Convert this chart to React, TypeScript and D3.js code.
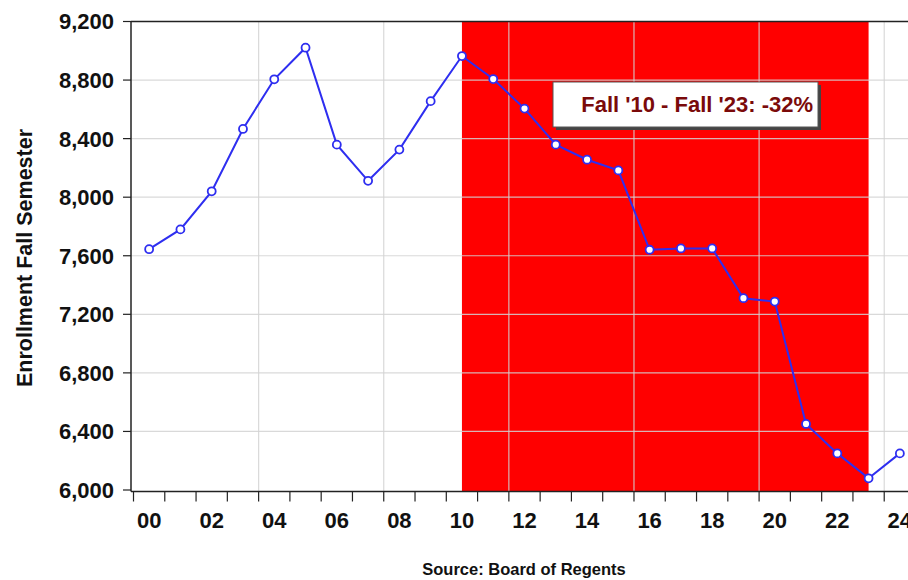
import React from "react";
import * as d3 from "d3";

const years = [2000, 2001, 2002, 2003, 2004, 2005, 2006, 2007, 2008, 2009, 2010, 2011, 2012, 2013, 2014, 2015, 2016, 2017, 2018, 2019, 2020, 2021, 2022, 2023, 2024];
const enrollment = [7645, 7780, 8040, 8466, 8805, 9021, 8359, 8112, 8325, 8656, 8964, 8807, 8605, 8359, 8256, 8183, 7641, 7650, 7650, 7310, 7287, 6451, 6250, 6080, 6250];
const yTicks = [6000, 6400, 6800, 7200, 7600, 8000, 8400, 8800, 9200];
const xLabelYears = [2000, 2002, 2004, 2006, 2008, 2010, 2012, 2014, 2016, 2018, 2020, 2022, 2024];
const xGridYears = [2004, 2008, 2012, 2016, 2020, 2024];
const shadeStart = 2010;
const shadeEnd = 2023;
const annotation = "Fall '10 - Fall '23: -32%";
const yTitle = "Enrollment Fall Semester";
const source = "Source: Board of Regents";

export default function App() {
  const W = 908, H = 580;
  const left = 131, right = 908, top = 21.5, bottom = 491.5;
  const x = d3.scaleLinear().domain([2000, 2025]).range([133.5, 133.5 + 31.28 * 25]);
  const y = d3.scaleLinear().domain([6000, 9200]).range([490, 21.5]);
  const cx = (yr: number) => x(yr + 0.5);
  const line = d3.line<number>().x((_, i) => cx(years[i])).y((v) => y(v));
  const font = "'Liberation Sans', Arial, sans-serif";
  const blue = "#2e2ef0";
  const tickYears = d3.range(0, years.length + 1).map((i) => 2000 + i);

  return (
    <svg width={W} height={H} style={{ position: "absolute", left: 0, top: 0, background: "#fff" }} fontFamily={font}>
      <rect x={0} y={0} width={W} height={H} fill="#fff" />
      <rect x={cx(shadeStart)} y={top} width={cx(shadeEnd) - cx(shadeStart)} height={bottom - top} fill="#ff0000" />
      {yTicks.filter((t) => t > 6000 && t < 9200).map((t) => (
        <line key={"h" + t} x1={left} x2={right} y1={y(t)} y2={y(t)} stroke="#d2d2d2" strokeOpacity={0.85} strokeWidth={1.2} />
      ))}
      {xGridYears.map((yr) => (
        <line key={"v" + yr} x1={x(yr)} x2={x(yr)} y1={top} y2={bottom} stroke="#d2d2d2" strokeOpacity={0.85} strokeWidth={1.2} />
      ))}
      <line x1={left} x2={right} y1={top} y2={top} stroke="#222" strokeWidth={1.5} />
      <line x1={left} x2={left} y1={top} y2={bottom} stroke="#222" strokeWidth={1.5} />
      <line x1={left} x2={right} y1={bottom} y2={bottom} stroke="#222" strokeWidth={1.5} />
      {yTicks.map((t) => (
        <g key={"yt" + t}>
          <line x1={left - 8} x2={left} y1={y(t)} y2={y(t)} stroke="#222" strokeWidth={1.2} />
          <text x={114} y={y(t)} dy="0.36em" textAnchor="end" fontSize={22} fontWeight="bold" fill="#111">
            {d3.format(",")(t)}
          </text>
        </g>
      ))}
      {tickYears.map((yr) => (
        <line key={"xt" + yr} x1={x(yr)} x2={x(yr)} y1={bottom} y2={bottom + 10} stroke="#222" strokeWidth={1.2} />
      ))}
      {xLabelYears.map((yr) => (
        <text key={"xl" + yr} x={cx(yr)} y={528} textAnchor="middle" fontSize={22} fontWeight="bold" fill="#111">
          {String(yr % 100).padStart(2, "0")}
        </text>
      ))}
      <path d={line(enrollment) || ""} fill="none" stroke={blue} strokeWidth={2} />
      {enrollment.map((v, i) => (
        <circle key={"p" + i} cx={cx(years[i])} cy={y(v)} r={4} fill="#fff" stroke={blue} strokeWidth={1.8} />
      ))}
      <rect x={556} y={85} width={265} height={45} fill="#444" />
      <rect x={553} y={82} width={265} height={45} fill="#fff" stroke="#555" strokeWidth={1} />
      <text x={813} y={112} textAnchor="end" fontSize={22} fontWeight="bold" fill="#7a0a0a">
        {annotation}
      </text>
      <text transform={`translate(32,258) rotate(-90)`} textAnchor="middle" fontSize={21.5} fontWeight="bold" fill="#111">
        {yTitle}
      </text>
      <text x={524} y={575} textAnchor="middle" fontSize={16.5} fontWeight="bold" fill="#111">
        {source}
      </text>
    </svg>
  );
}
